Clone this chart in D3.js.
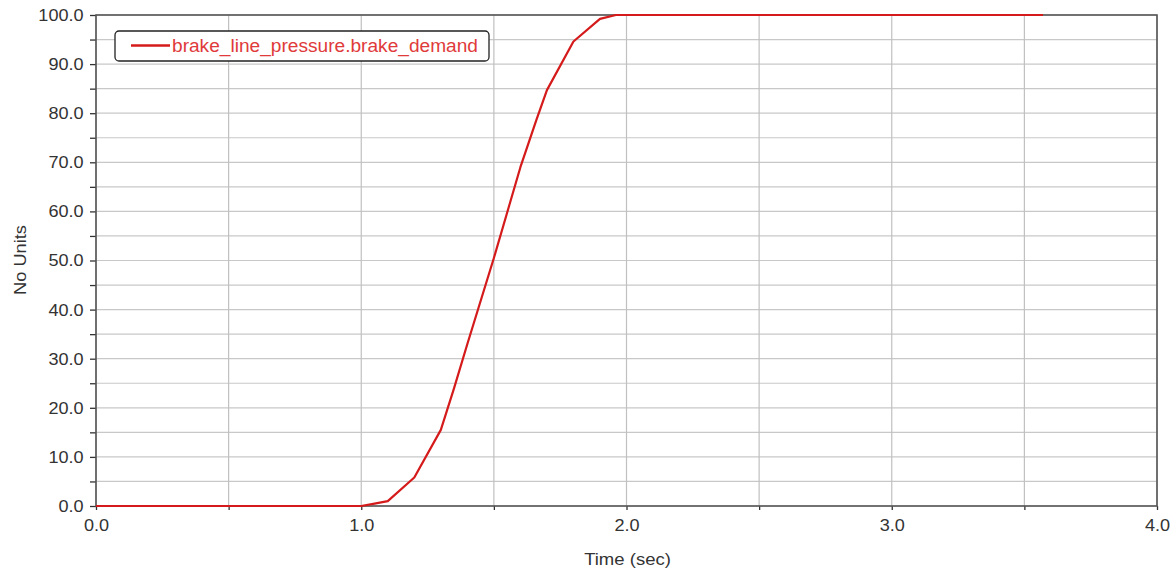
<!DOCTYPE html>
<html>
<head>
<meta charset="utf-8">
<script src="https://cdn.jsdelivr.net/npm/d3@7"></script>
<style>
  html, body { margin: 0; padding: 0; background: #fff; }
  svg { display: block; font-family: "Liberation Sans", Arial, sans-serif; }
</style>
</head>
<body>
<svg id="chart" width="1176" height="568"></svg>
<script>
const seriesName = "brake_line_pressure.brake_demand";
const timeSec = [0, 1.0, 1.05, 1.1, 1.2, 1.3, 1.35, 1.4, 1.5, 1.6, 1.66, 1.7, 1.8, 1.9, 1.96, 2.0, 3.57];
const demand  = [0, 0,   0.5,  1.0, 5.8, 15.5, 24, 33, 50.5, 69, 78.6, 84.7, 94.6, 99.2, 100, 100, 100];
const xTicks = [0, 0.5, 1, 1.5, 2, 2.5, 3, 3.5, 4];
const xLabels = [0, 1, 2, 3, 4];
const yTicks = d3.range(0, 101, 5);
const yLabels = d3.range(0, 101, 10);
const xTitle = "Time (sec)";
const yTitle = "No Units";

const svg = d3.select("#chart");
const L = 96, R = 1157, T = 15, B = 506;
const SX = 1.13;
const x = d3.scaleLinear().domain([0, 4]).range([L, R]);
const y = d3.scaleLinear().domain([0, 100]).range([B, T]);

// grid
svg.append("g").selectAll("line").data(yTicks).join("line")
  .attr("x1", L).attr("x2", R).attr("y1", d => y(d)).attr("y2", d => y(d))
  .attr("stroke", "#c8c8c8").attr("stroke-width", 1.2);
svg.append("g").selectAll("line").data(xTicks).join("line")
  .attr("y1", T).attr("y2", B).attr("x1", d => x(d)).attr("x2", d => x(d))
  .attr("stroke", "#c0c0c0").attr("stroke-width", 1.2);

// axes
const yAxis = d3.axisLeft(y).tickValues(yTicks).tickSize(6)
  .tickFormat(d => yLabels.includes(d) ? d3.format(".1f")(d) : "");
const gy = svg.append("g").attr("transform", `translate(${L},0)`).call(yAxis);
const xAxis = d3.axisBottom(x).tickValues(xTicks).tickSize(4)
  .tickFormat(d => xLabels.includes(d) ? d3.format(".1f")(d) : "");
const gx = svg.append("g").attr("transform", `translate(0,${B})`).call(xAxis);
[gx, gy].forEach(g => {
  g.select(".domain").remove();
  g.selectAll(".tick line").attr("stroke", "#333").attr("stroke-width", 1.3);
  g.selectAll(".tick text").attr("fill", "#333").attr("font-size", 16)
    .attr("font-family", "Liberation Sans, Arial, sans-serif")
    .attr("transform", `scale(${SX},1)`);
});
gx.selectAll(".tick text").attr("y", 14);
gy.selectAll(".tick text").attr("x", -11).attr("dy", "0.34em");

// frame
svg.append("rect").attr("x", L).attr("y", T).attr("width", R - L).attr("height", B - T)
  .attr("fill", "none").attr("stroke", "#555").attr("stroke-width", 1.6);

// line
const line = d3.line().x((d, i) => x(timeSec[i])).y(d => y(d));
svg.append("path").datum(demand).attr("d", line)
  .attr("fill", "none").attr("stroke", "#d41a1a").attr("stroke-width", 2.2)
  .attr("stroke-linejoin", "round");

// legend
const lg = svg.append("g");
lg.append("rect").attr("x", 115).attr("y", 31).attr("width", 374).attr("height", 30)
  .attr("rx", 4).attr("fill", "#fff").attr("stroke", "#222").attr("stroke-width", 1.3);
lg.append("line").attr("x1", 131).attr("x2", 170).attr("y1", 45.5).attr("y2", 45.5)
  .attr("stroke", "#d41a1a").attr("stroke-width", 2.4);
lg.append("text").attr("x", 172).attr("y", 51.5).attr("font-size", 17.5)
  .attr("textLength", 306).attr("lengthAdjust", "spacingAndGlyphs")
  .attr("fill", "#e03a3a").text(seriesName);

// titles
svg.append("text").attr("transform", `translate(${x(2) + 1},565) scale(1.09,1)`)
  .attr("text-anchor", "middle")
  .attr("font-size", 17).attr("fill", "#333").text(xTitle);
svg.append("text").attr("transform", `translate(26,${260}) rotate(-90) scale(1.14,1)`)
  .attr("text-anchor", "middle").attr("font-size", 16).attr("fill", "#333").text(yTitle);
</script>
</body>
</html>
